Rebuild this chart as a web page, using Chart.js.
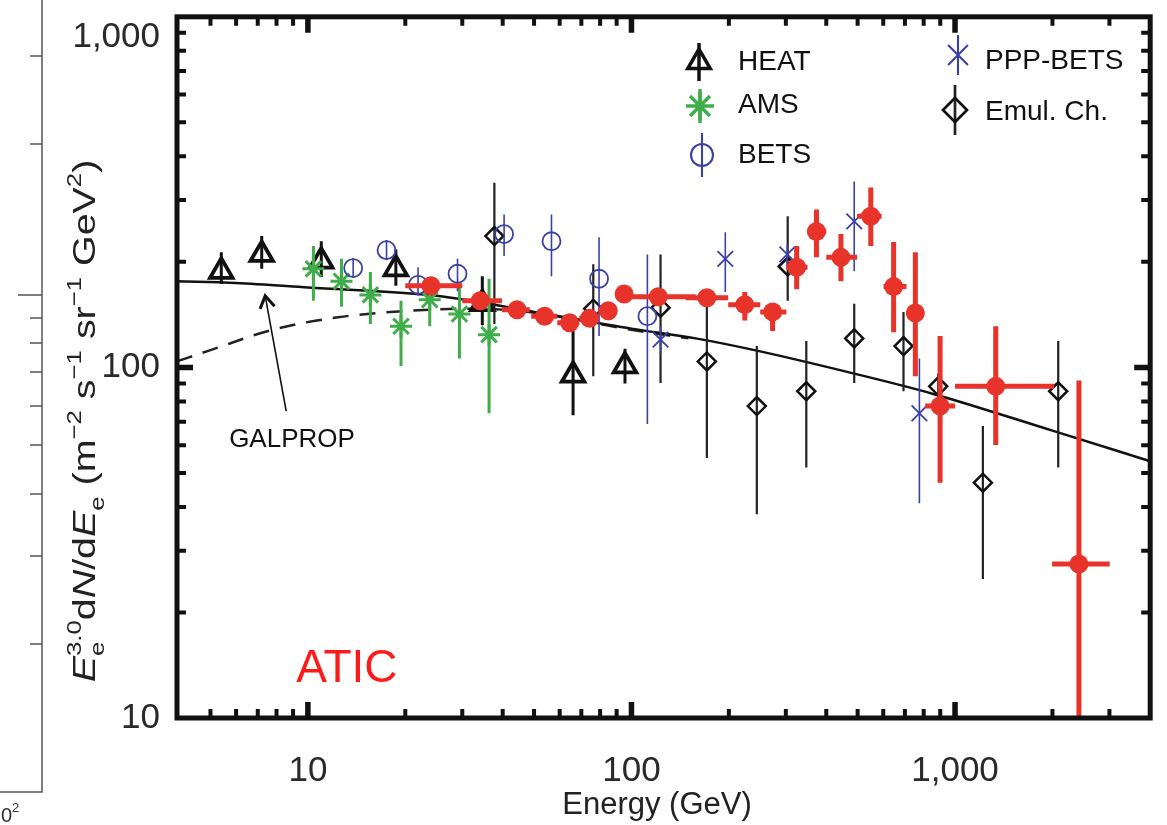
<!DOCTYPE html>
<html lang="en">
<head>
<meta charset="UTF-8">
<title>Electron spectrum: ATIC and others</title>
<script src="https://cdn.jsdelivr.net/npm/chart.js"></script>
<style>
  html, body { margin: 0; padding: 0; background: #fff; }
  canvas { display: block; }
</style>
</head>
<body>
<canvas id="chart" width="1167" height="825"></canvas>
<script>
// ---- data (energy in GeV, E^3 dN/dE in m^-2 s^-1 sr^-1 GeV^2) ----
const xTickVals = [10, 100, 1000];
const xTickLabels = ['10', '100', '1,000'];
const yTickVals = [10, 100, 1000];
const yTickLabels = ['10', '100', ['', '', '1,000']]; // top label sits a bit below the frame, as in the source

const aticE   = [24.0, 34.1, 44.3, 53.9, 64.4, 74.2, 84.8, 94.9, 121, 171, 224, 273, 324, 373, 444, 549, 646, 754, 899, 1336, 2415];
const aticF   = [171, 155, 146, 140, 134, 138, 145, 162, 159, 158, 151, 144, 193, 244, 206, 270, 170, 143, 77.6, 88.3, 27.5];
const aticLo  = [165, 150, 141, 135, 129, 133, 140, 157, 153, 152, 136, 127, 167, 206, 176, 222, 126, 94.4, 46.9, 60.1, 8];
const aticHi  = [177, 160, 151, 145, 139, 143, 150, 167, 165, 164, 164, 152, 222, 282, 240, 326, 228, 213, 123, 131, 91.8];
const aticELo = [20.0, 30.0, 39.8, 49, 59, 69, 79, 90, 94.9, 147, 199, 250, 301, 350, 400, 498, 601, 708, 809, 1000, 1995];
const aticEHi = [30.0, 39.8, 48.5, 59, 69, 79, 90, 100, 158, 199, 250, 301, 350, 400, 498, 593, 708, 800, 1000, 2023, 3006];

const heatE  = [5.4, 7.2, 11.0, 18.7, 34.6, 66, 95.5];
const heatF  = [188, 210, 201, 191, 152, 95, 101];
const heatLo = [173, 191, 181, 171, 132, 73, 90];
const heatHi = [213, 237, 229, 217, 182, 127, 113];

const amsE  = [10.4, 12.7, 15.6, 19.4, 23.8, 29.4, 36.3];
const amsF  = [191, 176, 161, 131, 156, 142, 124];
const amsLo = [155, 149, 133, 101, 131, 106, 74];
const amsHi = [222, 204, 187, 155, 181, 169, 179];

const betsE  = [13.8, 17.5, 21.9, 29.0, 40.4, 56.6, 79.4, 112];
const betsF  = [192, 216, 172, 185, 240, 229, 179, 140];
const betsLo = [180, 202, 160, 165, 208, 182, 123, 69];
const betsHi = [205, 231, 193, 204, 273, 273, 235, 210];

const pppE  = [123, 195, 303, 488, 776];
const pppF  = [120, 204, 210, 261, 74];
const pppLo = [110, 164, 194, 188, 41];
const pppHi = [131, 243, 224, 339, 106];

const emulE  = [37.7, 76.2, 123, 171, 244, 304, 347, 488, 693, 887, 1219, 2084];
const emulF  = [237, 147, 148, 104, 77.6, 194, 85.5, 121, 115, 88.3, 46.9, 85.5];
const emulLo = [133, 94.4, 90.2, 55.2, 38.1, 155, 51.8, 90.2, 85.5, 81, 24.9, 51.8];
const emulHi = [336, 197, 210, 159, 115, 270, 119, 152, 144, 96, 68.1, 119];

// GALPROP model curves
const galE  = [3.94, 6, 10, 25, 50, 100, 158, 240, 488, 857, 2000, 4010];
const galF  = [176, 174, 169, 160, 144, 129, 121, 112, 96, 84, 66, 54];
const galDashE = [3.94, 5, 7.76, 12.4, 20.4, 31, 45, 70, 100, 150];
const galDashF = [104, 112, 128, 139, 145, 147, 145, 136, 128, 121];

// ---- styling ----
const FONT = '"Liberation Sans", Arial, Helvetica, sans-serif';
const RED = '#e8332a';
const GREEN = '#3fae4a';
const BLUE = '#3b40a6';
const BLACK = '#111111';

function pts(xs, ys, lo, hi, xlo, xhi) {
  return xs.map((x, i) => ({
    x: x, y: ys[i],
    lo: lo ? lo[i] : null, hi: hi ? hi[i] : null,
    xlo: xlo ? xlo[i] : null, xhi: xhi ? xhi[i] : null
  }));
}

const datasets = [
  { label: 'ATIC', data: pts(aticE, aticF, aticLo, aticHi, aticELo, aticEHi),
    pointStyle: 'circle', pointRadius: 9.5, backgroundColor: RED, borderColor: RED, borderWidth: 0,
    errColor: RED, errWidth: 5 },
  { label: 'PPP-BETS', data: pts(pppE, pppF, pppLo, pppHi),
    pointStyle: 'crossRot', pointRadius: 11, backgroundColor: 'rgba(0,0,0,0)', borderColor: BLUE, borderWidth: 1.8,
    errColor: BLUE, errWidth: 1.6 },
  { label: 'BETS', data: pts(betsE, betsF, betsLo, betsHi),
    pointStyle: 'circle', pointRadius: 9, backgroundColor: 'rgba(0,0,0,0)', borderColor: BLUE, borderWidth: 1.8,
    errColor: BLUE, errWidth: 1.6 },
  { label: 'Emul. Ch.', data: pts(emulE, emulF, emulLo, emulHi),
    pointStyle: 'rectRot', pointRadius: 9, backgroundColor: 'rgba(0,0,0,0)', borderColor: BLACK, borderWidth: 2.5,
    errColor: '#222', errWidth: 2.2 },
  { label: 'AMS', data: pts(amsE, amsF, amsLo, amsHi),
    pointStyle: 'star', pointRadius: 11, backgroundColor: 'rgba(0,0,0,0)', borderColor: GREEN, borderWidth: 3,
    errColor: GREEN, errWidth: 3 },
  { label: 'HEAT', data: pts(heatE, heatF, heatLo, heatHi),
    pointStyle: 'triangle', pointRadius: 13, backgroundColor: 'rgba(0,0,0,0)', borderColor: BLACK, borderWidth: 3.8,
    errColor: BLACK, errWidth: 3 },
  { label: 'GALPROP', data: galE.map((x, i) => ({ x: x, y: galF[i] })),
    showLine: true, pointRadius: 0, borderColor: BLACK, borderWidth: 2.5, cubicInterpolationMode: 'monotone' },
  { label: 'GALPROP (dashed)', data: galDashE.map((x, i) => ({ x: x, y: galDashF[i] })),
    showLine: true, pointRadius: 0, borderColor: '#222', borderWidth: 2.5, borderDash: [16, 11],
    cubicInterpolationMode: 'monotone' }
];

// error bars, drawn just before each dataset's markers
const errorBars = {
  id: 'errorBars',
  beforeDatasetDraw(chart, args) {
    const ds = chart.data.datasets[args.index];
    if (!ds.errWidth) return;
    const { ctx, chartArea: a, scales: { x, y } } = chart;
    ctx.save();
    ctx.beginPath();
    ctx.rect(a.left, a.top, a.right - a.left, a.bottom - a.top);
    ctx.clip();
    ctx.strokeStyle = ds.errColor;
    ctx.lineWidth = ds.errWidth;
    ds.data.forEach(d => {
      const px = x.getPixelForValue(d.x), py = y.getPixelForValue(d.y);
      ctx.beginPath();
      if (d.lo != null) {
        ctx.moveTo(px, y.getPixelForValue(d.lo));
        ctx.lineTo(px, y.getPixelForValue(d.hi));
      }
      if (d.xlo != null) {
        ctx.moveTo(x.getPixelForValue(d.xlo), py);
        ctx.lineTo(x.getPixelForValue(d.xhi), py);
      }
      ctx.stroke();
    });
    ctx.restore();
  }
};

function drawYTitle(ctx) {
  // [text, kind, dy, noAdvance]  kind: n normal, i italic, s small
  const segs = [
    ['E', 'i', 0], ['e', 's', 9, true], ['3.0', 's', -14],
    ['d', 'n', 0], ['N', 'i', 0], ['/d', 'n', 0], ['E', 'i', 0], ['e', 's', 9],
    [' (m', 'n', 0], ['\u22122', 's', -14], [' s', 'n', 0], ['\u22121', 's', -14],
    [' sr', 'n', 0], ['\u22121', 's', -14], [' GeV', 'n', 0], ['2', 's', -14], [')', 'n', 0]
  ];
  const fonts = { n: '32px ' + FONT, i: 'italic 32px ' + FONT, s: '21px ' + FONT };
  let total = 0;
  segs.forEach(s => { ctx.font = fonts[s[1]]; if (!s[3]) total += ctx.measureText(s[0]).width; });
  ctx.save();
  ctx.translate(84, 421);
  ctx.rotate(-Math.PI / 2);
  ctx.scale(1.23, 1);
  ctx.fillStyle = '#222';
  ctx.textBaseline = 'alphabetic';
  ctx.textAlign = 'left';
  let cx = -total / 2;
  segs.forEach(s => {
    ctx.font = fonts[s[1]];
    ctx.fillText(s[0], cx, 11 + s[2]);
    if (!s[3]) cx += ctx.measureText(s[0]).width;
  });
  ctx.restore();
}

const decorations = {
  id: 'decorations',
  afterDraw(chart) {
    const { ctx, chartArea: a, scales: { x, y } } = chart;
    ctx.save();

    // frame
    ctx.strokeStyle = BLACK;
    ctx.lineWidth = 5;
    ctx.strokeRect(a.left, a.top, a.right - a.left, a.bottom - a.top);

    // inward ticks on all four sides
    const decades = [1, 10, 100, 1000];
    const tickX = (v, len, w) => {
      const p = x.getPixelForValue(v);
      if (p < a.left + 3 || p > a.right - 3) return;
      ctx.lineWidth = w;
      ctx.beginPath();
      ctx.moveTo(p, a.bottom); ctx.lineTo(p, a.bottom - len);
      ctx.moveTo(p, a.top); ctx.lineTo(p, a.top + len);
      ctx.stroke();
    };
    const tickY = (v, len, w) => {
      const p = y.getPixelForValue(v);
      if (p < a.top + 3 || p > a.bottom - 3) return;
      ctx.lineWidth = w;
      ctx.beginPath();
      ctx.moveTo(a.left, p); ctx.lineTo(a.left + len, p);
      ctx.moveTo(a.right, p); ctx.lineTo(a.right - len, p);
      ctx.stroke();
    };
    decades.forEach(d => {
      for (let k = 2; k <= 9; k++) {
        tickX(k * d, 9, 4);
        tickY(k * d, 9, 4);
      }
    });
    xTickVals.forEach(v => tickX(v, 16, 5.5));
    yTickVals.forEach(v => tickY(v, 16, 5.5));

    // legend
    const legend = [
      { ds: 5, label: 'HEAT', mx: 699, my: 62, r: 13, bar: 19, tx: 738, ty: 62 },
      { ds: 4, label: 'AMS', mx: 700, my: 106, r: 14, bar: 17, tx: 738, ty: 105 },
      { ds: 2, label: 'BETS', mx: 702, my: 155, r: 11, bar: 22, tx: 738, ty: 155 },
      { ds: 1, label: 'PPP-BETS', mx: 958, my: 55, r: 14, bar: 20, tx: 985, ty: 61 },
      { ds: 3, label: 'Emul. Ch.', mx: 955, my: 110, r: 12, bar: 25, tx: 985, ty: 112 }
    ];
    legend.forEach(it => {
      const ds = chart.data.datasets[it.ds];
      ctx.strokeStyle = ds.errColor;
      ctx.lineWidth = ds.errWidth + 0.5;
      ctx.beginPath();
      ctx.moveTo(it.mx, it.my - it.bar); ctx.lineTo(it.mx, it.my + it.bar);
      ctx.stroke();
      ctx.strokeStyle = ds.borderColor;
      ctx.fillStyle = ds.backgroundColor;
      Chart.helpers.drawPoint(ctx, { pointStyle: ds.pointStyle, radius: it.r, borderWidth: ds.borderWidth + 0.5, rotation: 0 }, it.mx, it.my);
      ctx.fillStyle = BLACK;
      ctx.font = '28px ' + FONT;
      ctx.textAlign = 'left';
      ctx.textBaseline = 'middle';
      ctx.fillText(it.label, it.tx, it.ty);
    });

    // GALPROP annotation with arrow
    const tipX = x.getPixelForValue(7.38), tipY = y.getPixelForValue(160);
    const tailX = x.getPixelForValue(8.57), tailY = y.getPixelForValue(75);
    ctx.strokeStyle = BLACK;
    ctx.lineWidth = 1.6;
    ctx.beginPath();
    ctx.moveTo(tailX, tailY); ctx.lineTo(tipX, tipY);
    ctx.stroke();
    const ang = Math.atan2(tipY - tailY, tipX - tailX);
    ctx.lineWidth = 3;
    ctx.beginPath();
    ctx.moveTo(tipX - 14 * Math.cos(ang - 0.55), tipY - 14 * Math.sin(ang - 0.55));
    ctx.lineTo(tipX, tipY);
    ctx.lineTo(tipX - 14 * Math.cos(ang + 0.55), tipY - 14 * Math.sin(ang + 0.55));
    ctx.stroke();
    ctx.fillStyle = BLACK;
    ctx.font = '26px ' + FONT;
    ctx.textAlign = 'center';
    ctx.textBaseline = 'middle';
    ctx.fillText('GALPROP', x.getPixelForValue(8.93), y.getPixelForValue(62));

    // ATIC label
    ctx.fillStyle = '#ff1a1a';
    ctx.font = '46px ' + FONT;
    ctx.fillText('ATIC', x.getPixelForValue(13.2), y.getPixelForValue(13.8));

    // axis titles
    ctx.fillStyle = '#222';
    ctx.font = '31px ' + FONT;
    ctx.fillText('Energy (GeV)', 657, 805);
    drawYTitle(ctx);

    // edge of the neighbouring panel, cropped in the source figure
    ctx.strokeStyle = '#555';
    ctx.lineWidth = 1.5;
    ctx.beginPath();
    ctx.moveTo(42, 0); ctx.lineTo(42, 792); ctx.lineTo(0, 792);
    [56, 144, 318, 343, 372, 406, 445, 494, 556, 644].forEach(p => { ctx.moveTo(30, p); ctx.lineTo(42, p); });
    ctx.moveTo(18, 295); ctx.lineTo(42, 295);
    ctx.stroke();
    ctx.fillStyle = '#333';
    ctx.font = '20px ' + FONT;
    ctx.textAlign = 'right';
    ctx.fillText('10', 12, 816);
    ctx.font = '13px ' + FONT;
    ctx.textAlign = 'left';
    ctx.fillText('2', 12, 808);

    ctx.restore();
  }
};

new Chart(document.getElementById('chart'), {
  type: 'scatter',
  data: { datasets: datasets },
  options: {
    responsive: false,
    animation: false,
    layout: { padding: { top: 8, right: 7, left: 0, bottom: 0 } },
    plugins: { legend: { display: false }, tooltip: { enabled: false } },
    scales: {
      x: {
        type: 'logarithmic', min: 3.94, max: 4010,
        grid: { display: false, drawTicks: false },
        border: { display: false },
        afterBuildTicks: s => { s.ticks = xTickVals.map(v => ({ value: v })); },
        afterFit: s => { s.height = 107; s.paddingLeft = 0; s.paddingRight = 0; },
        ticks: {
          autoSkip: false, maxRotation: 0, padding: 32, color: '#2a2a2a',
          font: { family: FONT, size: 35 },
          callback: (v, i) => xTickLabels[i]
        }
      },
      y: {
        type: 'logarithmic', min: 10, max: 1000,
        grid: { display: false, drawTicks: false },
        border: { display: false },
        afterBuildTicks: s => { s.ticks = yTickVals.map(v => ({ value: v })); },
        afterFit: s => { s.width = 177; s.paddingTop = 0; s.paddingBottom = 0; },
        ticks: {
          autoSkip: false, padding: 17, color: '#2a2a2a',
          font: { family: FONT, size: 35, lineHeight: 0.6 },
          callback: (v, i) => yTickLabels[i]
        }
      }
    }
  },
  plugins: [errorBars, decorations]
});
</script>
</body>
</html>
